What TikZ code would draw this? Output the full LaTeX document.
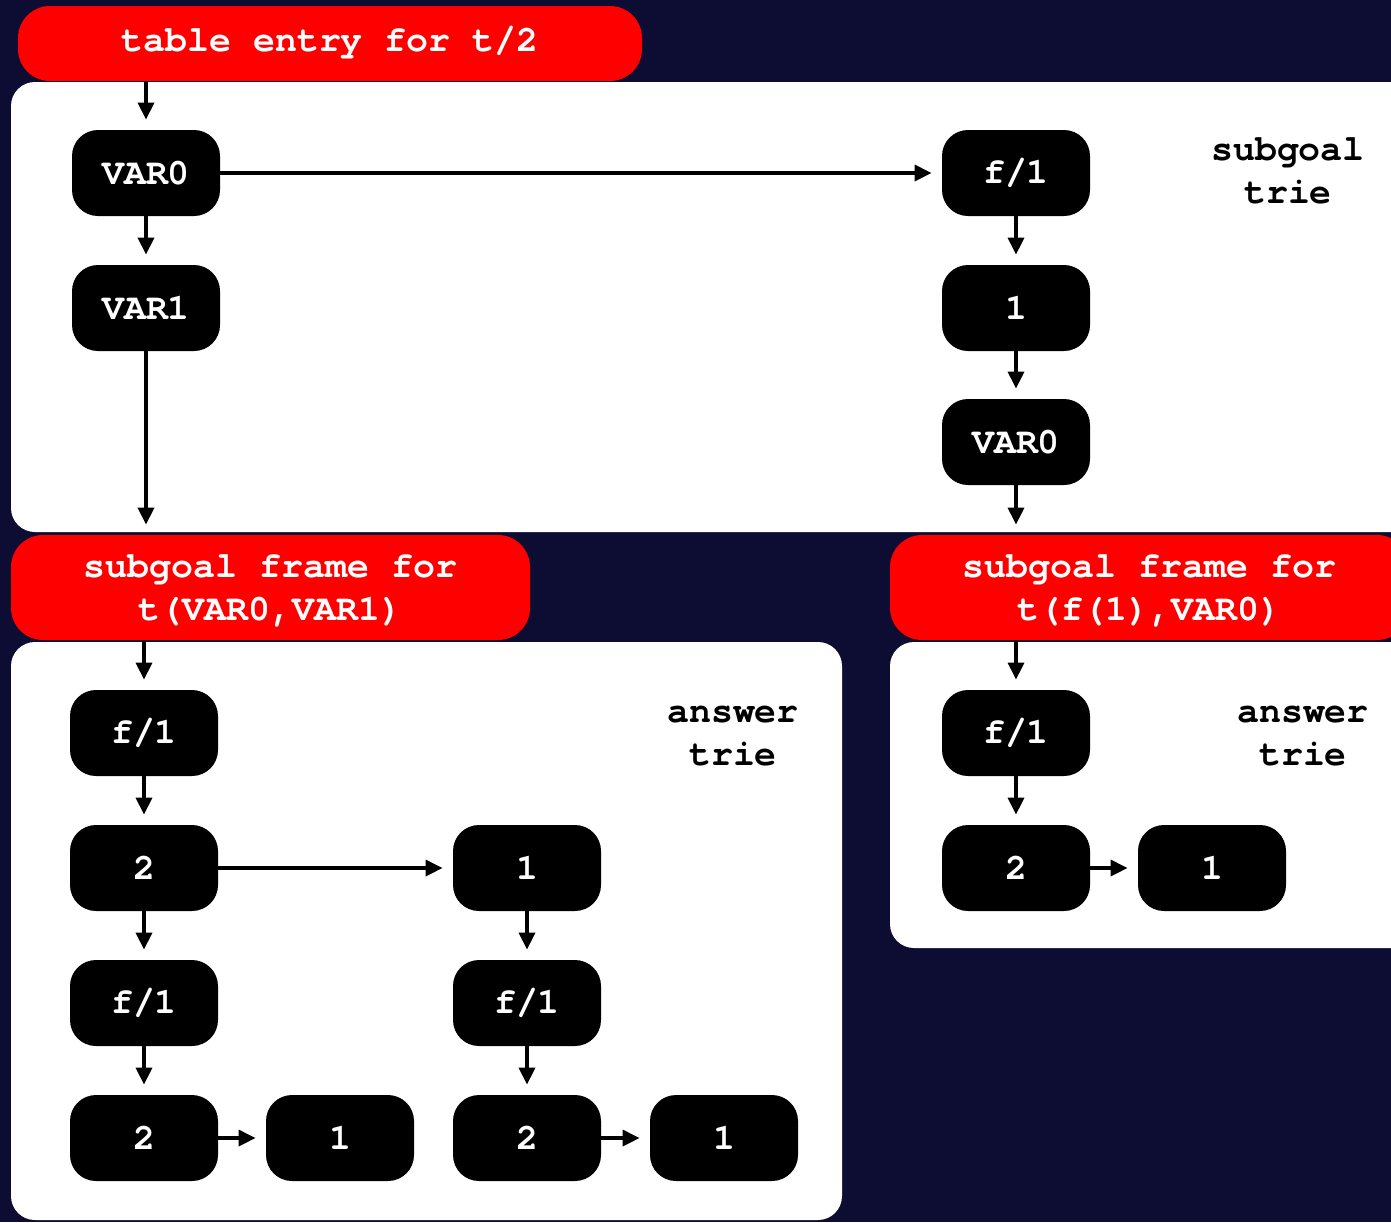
\documentclass[tikz,border=0pt]{standalone}
\usepackage{fontspec}
\newfontfamily\cour{TeX Gyre Cursor}
\usetikzlibrary{arrows.meta}
\definecolor{navy}{RGB}{13,13,51}
\begin{document}
\begin{tikzpicture}[x=0.5pt,y=-0.5pt,
  txt/.style={font=\cour\bfseries\fontsize{18.3}{21.5}\selectfont},
  tnode/.style={txt,fill=black,text=white,rounded corners=13pt,minimum width=74pt,minimum height=43pt,inner sep=0pt},
  hdr/.style={fill=red,rounded corners=16pt,inner sep=0pt},
  htxt/.style={txt,text=white,align=center,inner sep=0pt},
  lbl/.style={txt,text=black,align=center,inner sep=0pt},
  panel/.style={fill=white,rounded corners=12pt},
  arr/.style={-{Triangle[length=8.5pt,width=8pt]},line width=1.7pt,shorten >=5pt}]
\fill[navy] (0,0) rectangle (1391,1222);
\useasboundingbox (0,0) rectangle (1391,1222);
\clip (0,0) rectangle (1391,1222);
% panels
\fill[panel] (11,82) rectangle (1430,532);
\fill[panel] (11,642) rectangle (842,1220);
\fill[panel] (890,642) rectangle (1430,948);
% headers
\node[hdr,minimum width=312pt,minimum height=37.5pt] (h1) at (330,43.5) {};
\node[htxt] (h1t) at (330,43) {table entry for t/2};
\node[hdr,minimum width=259.5pt,minimum height=52.5pt] (h2) at (270.5,587.5) {};
\node[htxt] (h2t) at (270.5,591) {subgoal frame for\\t(VAR0,VAR1)};
\node[hdr,minimum width=259.5pt,minimum height=52.5pt] (h3) at (1149.5,587.5) {};
\node[htxt] (h3t) at (1149.5,591) {subgoal frame for\\t(f(1),VAR0)};
% subgoal trie
\node[tnode] (a1) at (146,173) {VAR0};
\node[tnode] (a2) at (146,308) {VAR1};
\node[tnode] (b1) at (1016,173) {f/1};
\node[tnode] (b2) at (1016,308) {1};
\node[tnode] (b3) at (1016,442) {VAR0};
\node[lbl] (st) at (1288,171) {subgoal\\trie};
% answer trie 1
\node[tnode] (c1) at (144,733) {f/1};
\node[tnode] (c2) at (144,868) {2};
\node[tnode] (c3) at (144,1003) {f/1};
\node[tnode] (c4) at (144,1138) {2};
\node[tnode] (c5) at (340,1138) {1};
\node[tnode] (d1) at (527,868) {1};
\node[tnode] (d2) at (527,1003) {f/1};
\node[tnode] (d3) at (527,1138) {2};
\node[tnode] (d4) at (724,1138) {1};
\node[lbl] (at1) at (733,736) {answer\\trie};
% answer trie 2
\node[tnode] (e1) at (1016,733) {f/1};
\node[tnode] (e2) at (1016,868) {2};
\node[tnode] (e3) at (1212,868) {1};
\node[lbl] (at2) at (1303,736) {answer\\trie};
% arrows
\draw[arr] (a1.north |- h1.south) -- (a1.north);
\draw[arr] (a1) -- (b1);
\draw[arr] (a1) -- (a2);
\draw[arr] (a2.south) -- (a2.south |- h2.north);
\draw[arr] (b1) -- (b2);
\draw[arr] (b2) -- (b3);
\draw[arr] (b3.south) -- (b3.south |- h3.north);
\draw[arr] (c1.north |- h2.south) -- (c1.north);
\draw[arr] (c1) -- (c2);
\draw[arr] (c2) -- (d1);
\draw[arr] (c2) -- (c3);
\draw[arr] (c3) -- (c4);
\draw[arr] (c4) -- (c5);
\draw[arr] (d1) -- (d2);
\draw[arr] (d2) -- (d3);
\draw[arr] (d3) -- (d4);
\draw[arr] (e1.north |- h3.south) -- (e1.north);
\draw[arr] (e1) -- (e2);
\draw[arr] (e2) -- (e3);
\end{tikzpicture}
\end{document}
